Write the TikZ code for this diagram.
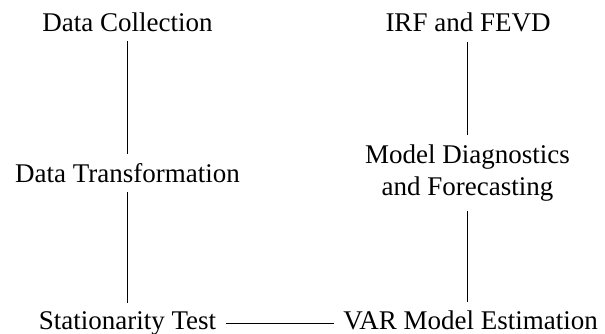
\documentclass[tikz,border=0pt]{standalone}
\usepackage{fontspec}
\setmainfont{Liberation Serif}
\begin{document}
% one unit = one pixel of the 605x334 layout (2.7 px per pt), y grows downward
\begin{tikzpicture}[x=0.37037pt, y=-0.37037pt,
  stage/.style={font=\fontsize{10pt}{12pt}\selectfont, inner sep=3.33pt},
  link/.style={draw=black, line width=0.35pt}]
\useasboundingbox (0,0) rectangle (605,334);

% left column
\node[stage, anchor=base] (dc) at (127.5,31.7) {Data Collection};
\node[stage, anchor=base] (dt) at (127.5,182.7) {Data Transformation};
\node[stage, anchor=base] (st) at (127.5,330) {Stationarity Test};

% right column
\node[stage, anchor=base] (irf) at (468,31.7) {IRF and FEVD};
\node[stage, align=center] (md) at (467.5,173.2) {Model Diagnostics\\and Forecasting};
\node[stage, anchor=base] (var) at (470.5,330) {VAR Model Estimation};

% connectors
\draw[link] (dc) -- (dt);
\draw[link] (dt.south) -- (dt.south |- st.north);
\draw[link] (st.east) -- (st.east -| var.west);
\draw[link] (md.south) -- (md.south |- var.north);
\draw[link] (irf.south -| md.north) -- (md.north);
\end{tikzpicture}
\end{document}
